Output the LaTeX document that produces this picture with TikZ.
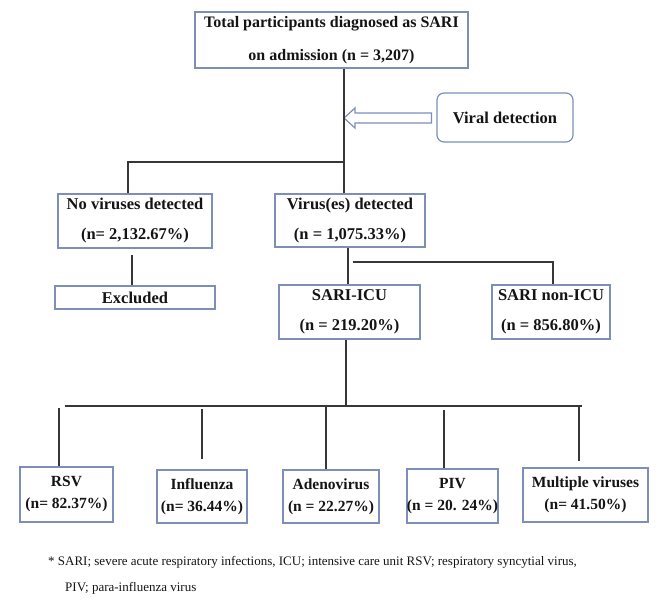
\documentclass[tikz,border=0pt]{standalone}
\usepackage{fontspec}
\setmainfont{Liberation Serif}
\usetikzlibrary{calc}
\definecolor{boxc}{RGB}{125,142,185}
\definecolor{linec}{RGB}{55,55,55}
\definecolor{txtc}{RGB}{20,20,20}
\begin{document}
\begin{tikzpicture}[x=1pt,y=-1pt,
  box/.style={draw=boxc, line width=1.2pt, fill=white, inner sep=0pt, align=center, text=txtc,
    font=\bfseries\fontsize{16.5}{30}\selectfont},
  botbox/.style={box, font=\bfseries\fontsize{15.5}{22}\selectfont},
  conn/.style={draw=linec, line width=1.3pt},
  harrow/.style={draw=boxc, line width=1.2pt, fill=white, line join=miter},
  foot/.style={inner sep=0pt, text=txtc, font=\fontsize{13}{15}\selectfont}]
\useasboundingbox (0,0) rectangle (658,603);

% boxes
\node[box, minimum width=273pt, minimum height=56pt, font=\bfseries\fontsize{16}{33}\selectfont] (top) at (331.5,40)
  {Total participants diagnosed as SARI\\on admission (n = 3,207)};
\node[box, rounded corners=7pt, minimum width=136pt, minimum height=49pt] (viral) at (505,117.5) {Viral detection};
\node[box, minimum width=154pt, minimum height=54pt] (nov) at (135,221) {No viruses detected\\(n= 2,132.67\%)};
\node[box, minimum width=150pt, minimum height=53pt] (vir) at (350,220.5) {Virus(es) detected\\(n = 1,075.33\%)};
\node[box, minimum width=160pt, minimum height=23pt] (excl) at (135,297.5) {Excluded};
\node[box, minimum width=141pt, minimum height=54pt] (icu) at (349.5,312) {SARI-ICU\\(n = 219.20\%)};
\node[box, minimum width=118pt, minimum height=54pt] (nonicu) at (551,312) {SARI non-ICU\\(n = 856.80\%)};

\node[botbox, minimum width=93pt, minimum height=55pt] (rsv) at (66.5,494.5) {RSV\\(n= 82.37\%)};
\node[botbox, minimum width=90pt, minimum height=53pt] (flu) at (202,496.5) {Influenza\\(n= 36.44\%)};
\node[botbox, minimum width=96pt, minimum height=53pt] (adeno) at (331,496.5) {Adenovirus\\(n = 22.27\%)};
\node[botbox, minimum width=89pt, minimum height=54pt] (piv) at (452.5,496) {PIV\\(n = 20. 24\%)};
\node[botbox, minimum width=125pt, minimum height=54pt] (mult) at (585.5,495) {Multiple viruses\\(n= 41.50\%)};

% hollow arrow from Viral detection to the trunk
\coordinate (tip) at (344,118);
\draw[harrow] ($(viral.west)+(-5,-4.5)$) -- ($(tip)+(11,-5)$) -- ($(tip)+(11,-10)$) -- (tip)
  -- ($(tip)+(11,10)$) -- ($(tip)+(11,5)$) -- ($(viral.west)+(-5,5.5)$) -- cycle;

% connectors
\coordinate (j1) at (344,162);
\coordinate (j1l) at (128,162);
\draw[conn] (top.south -| j1) -- (vir.north -| j1);
\draw[conn] (j1) -- (j1l) -- (nov.north -| j1l);

\coordinate (e1) at (132,255);
\draw[conn] (e1) -- (e1 |- excl.north);

\coordinate (v1) at (348,247);
\draw[conn] (vir.south -| v1) -- (icu.north -| v1);
\coordinate (h1) at (353,262);
\coordinate (h2) at (553,262);
\draw[conn] (h1) -- (h2) -- (h2 |- nonicu.north);

\coordinate (s1) at (346,406);
\draw[conn] (icu.south -| s1) -- (s1);
\coordinate (hl) at (65,406);
\coordinate (hr) at (582,406);
\draw[conn] (hl) -- (hr);
\coordinate (d1) at (59,408);
\coordinate (d2) at (202,409);
\coordinate (d3) at (326,407);
\coordinate (d4) at (444,410);
\coordinate (d5) at (579,405);
\draw[conn] (d1) -- (d1 |- rsv.north);
\draw[conn] (d2) -- ($(d2 |- flu.north)+(0,-10)$);
\draw[conn] (d3) -- (d3 |- adeno.north);
\draw[conn] (d4) -- (d4 |- piv.north);
\draw[conn] (d5) -- ($(d5 |- mult.north)+(0,-6)$);

% footnote
\node[foot, anchor=base west] (fn1) at (48,565) {* SARI; severe acute respiratory infections, ICU; intensive care unit RSV; respiratory syncytial virus,};
\node[foot, anchor=base west] (fn2) at (65,591) {PIV; para-influenza virus};
\end{tikzpicture}
\end{document}
